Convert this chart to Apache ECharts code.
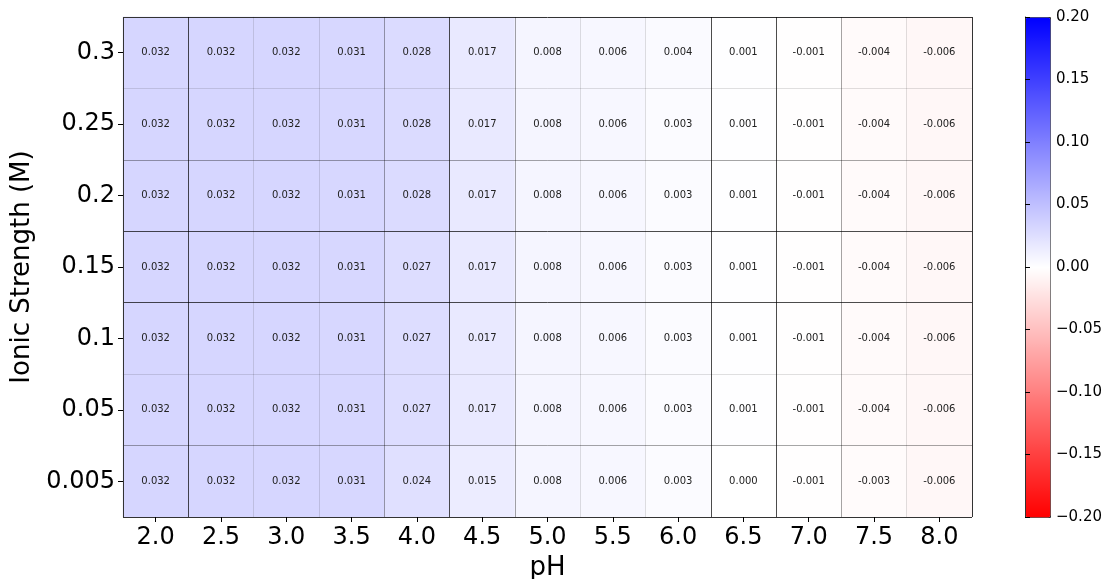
<!DOCTYPE html>
<html>
<head>
<meta charset="utf-8">
<script src="https://cdn.jsdelivr.net/npm/echarts@6/dist/echarts.min.js"></script>
<style>
  html, body { margin: 0; padding: 0; background: #fff; }
  #chart { width: 1107px; height: 579px; }
</style>
</head>
<body>
<div id="chart"></div>
<script>
// pH on x, ionic strength on y (listed bottom -> top)
const phLabels = ['2.0', '2.5', '3.0', '3.5', '4.0', '4.5', '5.0', '5.5', '6.0', '6.5', '7.0', '7.5', '8.0'];
const ionicLabels = ['0.005', '0.05', '0.1', '0.15', '0.2', '0.25', '0.3'];

const row0005 = [0.032, 0.032, 0.032, 0.031, 0.024, 0.015, 0.008, 0.006, 0.003, 0.000, -0.001, -0.003, -0.006];
const row005  = [0.032, 0.032, 0.032, 0.031, 0.027, 0.017, 0.008, 0.006, 0.003, 0.001, -0.001, -0.004, -0.006];
const row01   = [0.032, 0.032, 0.032, 0.031, 0.027, 0.017, 0.008, 0.006, 0.003, 0.001, -0.001, -0.004, -0.006];
const row015  = [0.032, 0.032, 0.032, 0.031, 0.027, 0.017, 0.008, 0.006, 0.003, 0.001, -0.001, -0.004, -0.006];
const row02   = [0.032, 0.032, 0.032, 0.031, 0.028, 0.017, 0.008, 0.006, 0.003, 0.001, -0.001, -0.004, -0.006];
const row025  = [0.032, 0.032, 0.032, 0.031, 0.028, 0.017, 0.008, 0.006, 0.003, 0.001, -0.001, -0.004, -0.006];
const row03   = [0.032, 0.032, 0.032, 0.031, 0.028, 0.017, 0.008, 0.006, 0.004, 0.001, -0.001, -0.004, -0.006];
const rows = [row0005, row005, row01, row015, row02, row025, row03];

const cbMin = -0.2, cbMax = 0.2, cbStep = 0.05;

const cells = [];
rows.forEach((r, yi) => r.forEach((v, xi) => cells.push([xi, yi, v])));

// the cell edges in the original render come out in uneven greys
const dark = 'rgba(0,0,0,0.7)', mid = 'rgba(0,0,0,0.35)', light = 'rgba(0,0,0,0.12)', edge = '#333';
const vLines = [edge, dark, light, light, mid, dark, mid, light, light, dark, dark, mid, light, edge];
const hLines = [edge, mid, light, dark, dark, mid, light, edge];

const font = 'DejaVu Sans';
const chart = echarts.init(document.getElementById('chart'));
chart.setOption({
  animation: false,
  textStyle: { fontFamily: font },
  grid: [
    { left: 123, top: 17, width: 849, height: 500, outerBoundsMode: 'none' },
    { left: 1025, top: 17, width: 25, height: 500, outerBoundsMode: 'none' },
  ],
  xAxis: [{
    type: 'category', data: phLabels, gridIndex: 0, z: 10,
    name: 'pH', nameLocation: 'middle', nameGap: 29,
    nameTextStyle: { fontSize: 26, color: '#000', fontFamily: font },
    axisLine: { show: false },
    axisTick: { show: true, alignWithLabel: true, length: 5, lineStyle: { color: '#000' } },
    axisLabel: { fontSize: 24, color: '#000', margin: 9, fontFamily: font },
    splitLine: { show: true, lineStyle: { color: vLines, width: 1 } },
  }, {
    type: 'value', gridIndex: 1, show: false, min: 0, max: 1,
  }],
  yAxis: [{
    type: 'category', data: ionicLabels, gridIndex: 0, z: 10,
    name: 'Ionic Strength (M)', nameLocation: 'middle', nameGap: 72,
    nameTextStyle: { fontSize: 26, color: '#000', fontFamily: font },
    axisLine: { show: false },
    axisTick: { show: true, alignWithLabel: true, length: 5, lineStyle: { color: '#000' } },
    axisLabel: { fontSize: 24, color: '#000', margin: 8, fontFamily: font },
    splitLine: { show: true, lineStyle: { color: hLines, width: 1 } },
  }, {
    type: 'value', gridIndex: 1, position: 'right', min: cbMin, max: cbMax, interval: cbStep, z: 10,
    axisLine: { show: true, lineStyle: { color: '#333' } },
    axisTick: { show: true, length: 5, lineStyle: { color: '#000' } },
    axisLabel: {
      fontSize: 15, color: '#000', margin: 6, fontFamily: font,
      formatter: v => v.toFixed(2).replace('-', '\u2212'),
    },
    splitLine: { show: false },
  }],
  visualMap: {
    type: 'continuous', min: cbMin, max: cbMax, seriesIndex: 0,
    orient: 'vertical', left: 1025, top: 17, itemWidth: 25, itemHeight: 500,
    padding: 0, calculable: false, hoverLink: false,
    borderColor: '#333', borderWidth: 1,
    inRange: { color: ['#ff0000', '#ffffff', '#0000ff'] },
  },
  series: [{
    type: 'heatmap', xAxisIndex: 0, yAxisIndex: 0, data: cells,
    itemStyle: { borderWidth: 0 },
    label: {
      show: true, fontSize: 10, color: '#222', fontFamily: font,
      formatter: p => p.value[2].toFixed(3),
    },
    emphasis: { disabled: true },
  }],
});
</script>
</body>
</html>
